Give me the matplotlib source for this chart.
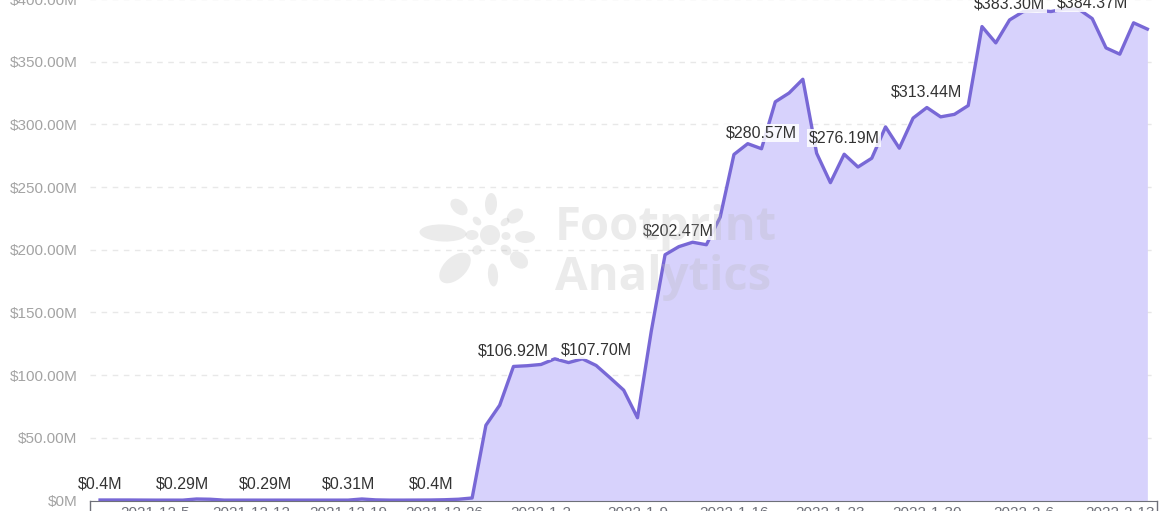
import numpy as np
import pandas as pd
import matplotlib
matplotlib.use('Agg')
import matplotlib.pyplot as plt
from matplotlib.patches import Ellipse
import math

# daily TVL values, $M
values = [
    0.4, 0.4, 0.4, 0.35, 0.3, 0.3, 0.29, 1.2, 1.0, 0.3,
    0.3, 0.3, 0.29, 0.3, 0.3, 0.3, 0.3, 0.3, 0.31, 1.2,
    0.5, 0.3, 0.3, 0.35, 0.4, 0.6, 1.0, 2.0, 60.0, 76.0,
    106.92, 107.5, 108.5, 113.0, 110.0, 113.0, 107.70, 98.0, 88.0, 66.0,
    135.0, 196.0, 202.47, 206.0, 204.0, 226.0, 276.0, 284.6, 280.57, 318.0,
    325.0, 336.0, 277.0, 253.5, 276.19, 266.0, 273.0, 298.0, 281.0, 305.0,
    313.44, 306.0, 308.0, 315.0, 378.0, 365.0, 383.30, 390.0, 391.0, 390.0,
    392.0, 392.0, 384.37, 361.0, 356.0, 381.0, 376.0,
]
dates = pd.date_range('2021-12-01', periods=len(values), freq='D')
label_every = 6
tick_start = 4
tick_step = 7
y_ticks = [0, 50, 100, 150, 200, 250, 300, 350, 400]

LINE = '#7868d6'
FILL = '#d7d2fc'
W, H = 1173, 511

plt.rcParams['font.family'] = ['Liberation Sans', 'DejaVu Sans']

fig = plt.figure(figsize=(W / 100, H / 100), dpi=100)
ax = fig.add_axes([90 / W, 10.5 / H, 1067 / W, 501.5 / H])

x = np.arange(len(values))
y = np.array(values)
ax.fill_between(x, 0, y, color=FILL, lw=0, zorder=2)
ax.plot(x, y, color=LINE, lw=2.4, zorder=3)

def fmt_money(v):
    if v == 0:
        return '$0M'
    if v < 1:
        return f'${v:g}M'
    return f'${v:.2f}M'

for i in range(0, len(values), label_every):
    ax.annotate(fmt_money(values[i]), (x[i], y[i]), xytext=(0, 6),
                textcoords='offset points', ha='center', va='bottom',
                fontsize=11.5, color='#333333', zorder=5,
                bbox=dict(boxstyle='square,pad=0.1', fc='white', ec='none', alpha=0.85))

ax.set_xlim(-0.73, 76.7)
ax.set_ylim(0, 400)
ax.set_yticks(y_ticks)
ax.set_yticklabels([fmt_money(v) for v in y_ticks])
tick_idx = list(range(tick_start, len(values), tick_step))
ax.set_xticks(tick_idx)
ax.set_xticklabels([f'{dates[i].year}-{dates[i].month}-{dates[i].day}' for i in tick_idx])
ax.tick_params(axis='y', length=0, pad=9, labelsize=11, labelcolor='#a3a3a3')
ax.tick_params(axis='x', length=0, pad=4, labelsize=11, labelcolor='#6e7079')

ax.yaxis.grid(True, linestyle=(0, (4, 4)), color='#e8e8e8', lw=1)
ax.set_axisbelow(True)
for s in ['left', 'top', 'right']:
    ax.spines[s].set_visible(False)
ax.spines['bottom'].set_color('#6e7079')
ax.spines['bottom'].set_zorder(4)

# end ticks on the x axis
trans = ax.get_xaxis_transform()
for xe in ax.get_xlim():
    ax.plot([xe, xe], [0, -0.02], color='#6e7079', lw=1, transform=trans, clip_on=False)

# watermark overlay in pixel coordinates
ov = fig.add_axes([0, 0, 1, 1], zorder=10)
ov.set_xlim(0, W)
ov.set_ylim(H, 0)
ov.axis('off')
ov.patch.set_alpha(0)

WM = '#b8b8b8'
WM_A = 0.28
cx, cy = 490, 235
petals = [
    (443, 233, 47, 17), (472, 235, 13, 10), (459, 207, 20, 13), (477, 221, 10, 7),
    (491, 204, 22, 12), (505, 222, 10, 7), (515, 216, 18, 13), (506, 236, 9, 8),
    (525, 237, 20, 12), (519, 260, 20, 15), (506, 250, 12, 9), (493, 275, 23, 10),
    (455, 268, 38, 22), (477, 250, 10, 9),
]
for px, py, ln, wd in petals:
    ang = math.degrees(math.atan2(py - cy, px - cx))
    ov.add_patch(Ellipse((px, py), ln, wd, angle=ang, fc=WM, ec='none', alpha=WM_A))
ov.add_patch(Ellipse((cx, cy), 20, 20, fc=WM, ec='none', alpha=WM_A))
ov.text(555, 240, 'Footprint', fontsize=34, fontweight='bold', color=WM, alpha=WM_A,
        family=['Open Sans', 'DejaVu Sans'], va='baseline', ha='left')
ov.text(555, 290, 'Analytics', fontsize=34, fontweight='bold', color=WM, alpha=WM_A,
        family=['Open Sans', 'DejaVu Sans'], va='baseline', ha='left')

fig.savefig('out.png', dpi=100)
